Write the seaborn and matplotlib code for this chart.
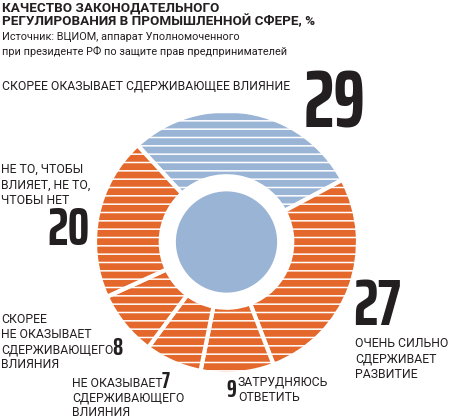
import matplotlib
matplotlib.use('Agg')
import matplotlib.pyplot as plt
import seaborn as sns

sns.set_theme(style='white')
plt.rcParams['hatch.linewidth'] = 1.1

# ---- data ----
values = [29, 27, 9, 7, 8, 20]
value_labels = ['29', '27', '9', '7', '8', '20']
categories = [
    'СКОРЕЕ ОКАЗЫВАЕТ СДЕРЖИВАЮЩЕЕ ВЛИЯНИЕ',
    'ОЧЕНЬ СИЛЬНО\nСДЕРЖИВАЕТ\nРАЗВИТИЕ',
    'ЗАТРУДНЯЮСЬ\nОТВЕТИТЬ',
    'НЕ ОКАЗЫВАЕТ\nСДЕРЖИВАЮЩЕГО\nВЛИЯНИЯ',
    'СКОРЕЕ\nНЕ ОКАЗЫВАЕТ\nСДЕРЖИВАЮЩЕГО\nВЛИЯНИЯ',
    'НЕ ТО, ЧТОБЫ\nВЛИЯЕТ, НЕ ТО,\nЧТОБЫ НЕТ',
]
title_lines = ['КАЧЕСТВО ЗАКОНОДАТЕЛЬНОГО', 'РЕГУЛИРОВАНИЯ В ПРОМЫШЛЕННОЙ СФЕРЕ, %']
source_lines = ['Источник: ВЦИОМ, аппарат Уполномоченного',
                'при президенте РФ по защите прав предпринимателей']

BLUE = '#9ab4d5'
ORANGE = '#e4672b'
INK = '#231f20'
colors = [BLUE] + [ORANGE] * 5

W, H = 450, 418
fig = plt.figure(figsize=(W / 100, H / 100), dpi=100)
fig.patch.set_facecolor('white')

cx, cy, r = 226.5, 242, 131.5
ax = fig.add_axes([(cx - r) / W, (H - cy - r) / H, 2 * r / W, 2 * r / H])
wedges, _ = ax.pie(values, colors=colors, startangle=132.6, counterclock=False,
                   radius=1.0,
                   wedgeprops=dict(width=0.5, edgecolor='white', linewidth=3.0))
for w in wedges:
    w.set_hatch('--')
ax.pie([1], colors=[BLUE], radius=0.385, wedgeprops=dict(linewidth=0))
ax.set_xlim(-1, 1)
ax.set_ylim(-1, 1)
ax.set_aspect('equal')
ax.axis('off')

TXT = ['Roboto', 'DejaVu Sans']
BIG = ['Saira ExtraCondensed', 'Fira Sans Extra Condensed', 'DejaVu Sans']


def put(x, base, s, size, family=TXT, weight='normal', color=INK):
    fig.text(x / W, 1 - base / H, s, fontsize=size, family=family,
             weight=weight, color=color, va='baseline', ha='left')


def put_lines(x, base0, step, text, size):
    for i, line in enumerate(text.split('\n')):
        put(x, base0 + i * step, line, size)


# title and source
put(2, 11.5, title_lines[0], 9.7, weight='bold')
put(2, 25.5, title_lines[1], 9.7, weight='bold')
put(2, 40, source_lines[0], 7.8)
put(2, 55, source_lines[1], 7.8)

LBL = 8.8
# 29
put_lines(2, 89, 15, categories[0], LBL)
put(304, 128, value_labels[0], 58, family=BIG, weight='bold')
# 27
put(353, 325, value_labels[1], 47, family=BIG, weight='bold')
put_lines(355, 347, 15.5, categories[1], LBL)
# 9
put(226, 397, value_labels[2], 18, family=BIG, weight='bold')
put_lines(238, 385, 16, categories[2], LBL)
# 7
put(162, 388, value_labels[3], 16, family=BIG, weight='bold')
put_lines(72, 387, 14.5, categories[3], LBL)
# 8
put(112, 355, value_labels[4], 18, family=BIG, weight='bold')
put_lines(1, 323, 15, categories[4], LBL)
# 20
put(47, 245, value_labels[5], 39, family=BIG, weight='bold')
put_lines(1, 173, 15.5, categories[5], LBL)

fig.savefig('out.png', dpi=100, facecolor='white')
